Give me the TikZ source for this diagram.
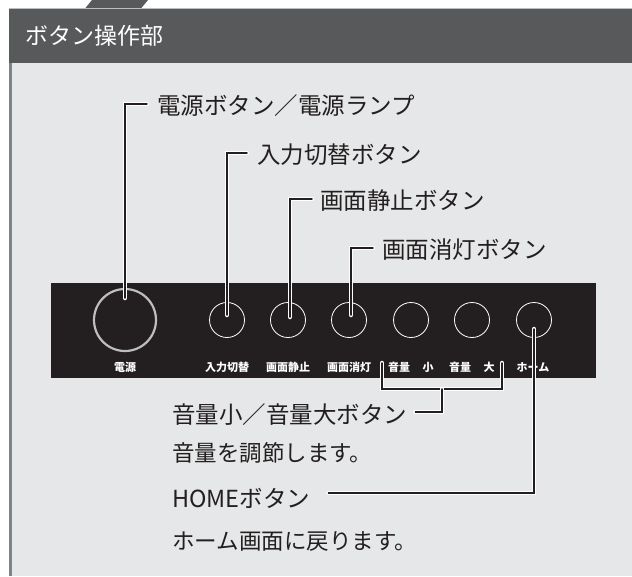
\documentclass[tikz,border=0pt]{standalone}
\usepackage{fontspec}
\newfontfamily\jp{Noto Sans CJK JP}
\usetikzlibrary{calc, positioning}

\definecolor{ink}{HTML}{231F20}
\definecolor{headgray}{HTML}{58595B}
\definecolor{bodygray}{HTML}{E6E7E8}
\definecolor{edgegray}{HTML}{808285}
\definecolor{ringgray}{HTML}{BCBEC0}

\tikzset{
    callout/.style={draw=ink, line width=1.5pt, line cap=round,
        preaction={draw=white, line width=4.5pt, line cap=round}},
    bigbtn/.style={circle, draw=ringgray, line width=2.2pt, minimum size=62pt, inner sep=0pt},
    smallbtn/.style={circle, draw=white, line width=0.8pt, minimum size=35pt, inner sep=0pt},
    panellabel/.style={text=white, font=\jp\bfseries\fontsize{11}{12}\selectfont, inner sep=0pt},
    bigtext/.style={text=ink, font=\jp\fontsize{23.5}{26}\selectfont, inner sep=0pt, anchor=west},
    desctext/.style={text=ink, font=\jp\fontsize{22.5}{24}\selectfont, inner sep=0pt, anchor=west}
}

\begin{document}
\begin{tikzpicture}[x=1pt, y=-1pt]
    \useasboundingbox (0,0) rectangle (632,576);
    \fill[white] (0,0) rectangle (632,576);

    % Frame: tab, header bar and body
    \fill[headgray] (85,8.5) -- (92,0) -- (148,0) -- (141,8.5) -- cycle;
    \fill[bodygray] (9,63) rectangle (632,576);
    \fill[headgray] (9,9) rectangle (632,63);
    \draw[ringgray, line width=1pt] (9,8.5) -- (632,8.5);
    \fill[edgegray] (9,63) rectangle (12,576);
    \node (title) [anchor=west, text=white, inner sep=0pt,
        font=\jp\fontsize{23}{26}\selectfont] at (25,36) {ボタン操作部};

    % Button panel
    \fill[ink] (51,283) rectangle (596,378);
    \node (power) [bigbtn] at (125,320) {};
    \node (input) [smallbtn] at (227,320) {};
    \node (freeze) [smallbtn] at (288,320) {};
    \node (blank) [smallbtn] at (349,320) {};
    \node (voldown) [smallbtn] at (411,320) {};
    \node (volup) [smallbtn] at (472,320) {};
    \node (home) [smallbtn] at (534,320) {};

    \node [panellabel] at (125,367) {電源};
    \node [panellabel] at (227,367) {入力切替};
    \node [panellabel] at (288,367) {画面静止};
    \node [panellabel] at (349,367) {画面消灯};
    \node [panellabel] at (399,367) {音量};
    \node [panellabel] at (428,367) {小};
    \node [panellabel] at (460,367) {音量};
    \node [panellabel] at (489,367) {大};
    \node [panellabel] at (533,367) {ホーム};

    % Callout texts
    \node (powertxt) [bigtext] at (157,106) {電源ボタン／電源ランプ};
    \node (inputtxt) [bigtext] at (257,155) {入力切替ボタン};
    \node (freezetxt) [bigtext] at (320,201) {画面静止ボタン};
    \node (blanktxt) [bigtext] at (382,250) {画面消灯ボタン};
    \node (voltxt) [bigtext] at (172,415) {音量小／音量大ボタン};
    \node (voldesc) [desctext] at (172,453) {音量を調節します。};
    \node (hometxt) [bigtext] at (172,498) {HOMEボタン};
    \node (homedesc) [desctext] at (172,541) {ホーム画面に戻ります。};

    % Leader lines
    \coordinate (powertip) at (125,298);
    \coordinate (inputtip) at (227,315);
    \coordinate (freezetip) at (290,317);
    \coordinate (blanktip) at (351,315);
    \coordinate (hometip) at (534,329);
    \coordinate (volmid) at (442,389);

    \draw[callout] ([xshift=-10pt, yshift=2pt]powertxt.west) -| (powertip);
    \draw[callout] ([xshift=-10pt, yshift=2pt]inputtxt.west) -| (inputtip);
    \draw[callout] ([xshift=-8pt, yshift=2pt]freezetxt.west) -| (freezetip);
    \draw[callout] ([xshift=-9pt, yshift=2pt]blanktxt.west) -| (blanktip);

    \draw[callout] (382,363) -- (382,389) -- (502,389) -- (502,363);
    \draw[callout] ([xshift=8pt, yshift=3pt]voltxt.east) -| (volmid);
    \draw[callout] ([xshift=18pt, yshift=5pt]hometxt.east) -| (hometip);
\end{tikzpicture}
\end{document}
